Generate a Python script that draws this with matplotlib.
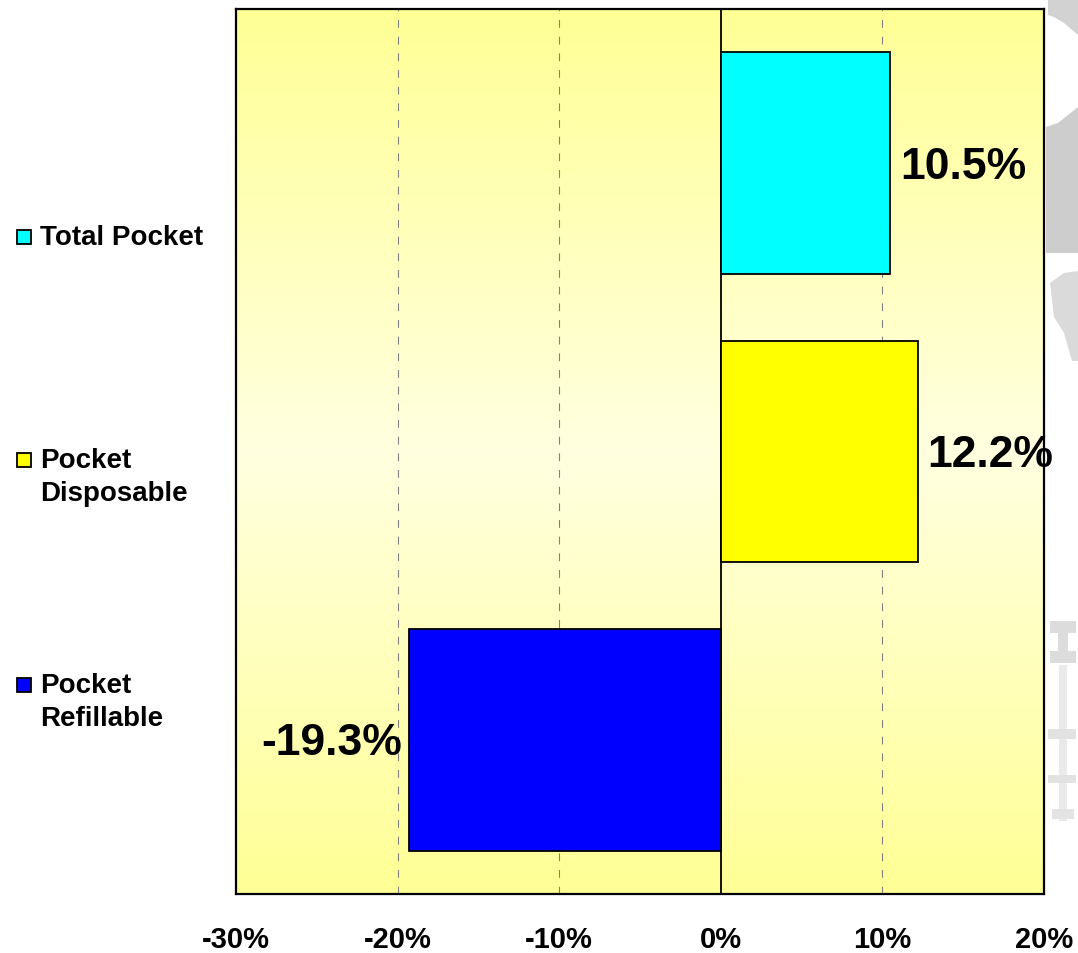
import numpy as np
import matplotlib
matplotlib.use("Agg")
import matplotlib.pyplot as plt
from matplotlib.patches import Rectangle, Polygon
from matplotlib.colors import LinearSegmentedColormap

# Data
categories = ["Total Pocket", "Pocket\nDisposable", "Pocket\nRefillable"]
values = [10.5, 12.2, -19.3]
colors = ["#00FFFF", "#FFFF00", "#0000FF"]
xticks = [-30, -20, -10, 0, 10, 20]
xtick_labels = ["-30%", "-20%", "-10%", "0%", "10%", "20%"]

plt.rcParams["font.family"] = ["Liberation Sans", "DejaVu Sans"]

W, H = 1078, 954
fig = plt.figure(figsize=(W / 100, H / 100), dpi=100)
fig.patch.set_facecolor("white")

# faint grey background artwork on the right margin (pixel coordinates)
px = fig.add_axes([0, 0, 1, 1], zorder=0)
px.set_xlim(0, W)
px.set_ylim(H, 0)
px.axis("off")
shapes = [
    ("#D2D2D2", [(1048, 0), (1078, 0), (1078, 36), (1064, 24), (1054, 18), (1048, 16)]),
    ("#CDCDCD", [(1046, 128), (1058, 124), (1078, 108), (1078, 254), (1046, 254)]),
    ("#DADADA", [(1050, 284), (1064, 274), (1078, 272), (1078, 362), (1072, 362),
                 (1064, 334), (1054, 318)]),
    ("#DCDCDC", [(1050, 622), (1076, 622), (1076, 634), (1068, 634), (1068, 652),
                 (1076, 652), (1076, 664), (1050, 664), (1050, 652), (1058, 652),
                 (1058, 634), (1050, 634)]),
    ("#EAEAEA", [(1059, 666), (1067, 666), (1067, 822), (1059, 822)]),
    ("#E2E2E2", [(1048, 730), (1076, 730), (1076, 740), (1048, 740)]),
    ("#E2E2E2", [(1048, 776), (1076, 776), (1076, 784), (1048, 784)]),
    ("#E4E4E4", [(1052, 810), (1074, 810), (1074, 820), (1052, 820)]),
]
for col, s in shapes:
    px.add_patch(Polygon(s, closed=True, facecolor=col, edgecolor="none"))

# plot area
left, right, top, bottom = 236, 1044, 10, 895
ax = fig.add_axes([left / W, 1 - bottom / H, (right - left) / W, (bottom - top) / H], zorder=1)

# vertical yellow gradient behind the bars
cmap = LinearSegmentedColormap.from_list("bg", ["#FFFF96", "#FFFFE0", "#FFFF96"])
grad = np.linspace(0, 1, 256).reshape(-1, 1)
ax.imshow(grad, cmap=cmap, aspect="auto", extent=(0, 1, 0, 1),
          transform=ax.transAxes, zorder=0, interpolation="bicubic")

ypos = np.arange(len(categories))
ax.barh(ypos, values, height=0.77, color=colors, edgecolor="black",
        linewidth=1.3, zorder=3)

ax.set_xlim(-30, 20)
ax.set_ylim(2.535, -0.535)

for x in [-20, -10, 10]:
    ax.axvline(x, color="#808080", linewidth=0.8, linestyle=(0, (7, 8)), zorder=1)
ax.axvline(0, color="black", linewidth=1.3, zorder=2)

for s in ax.spines.values():
    s.set_linewidth(1.6)
    s.set_color("black")

ax.set_xticks(xticks)
ax.set_xticklabels(xtick_labels, fontsize=21, fontweight="bold")
ax.tick_params(axis="x", length=0, pad=22)
ax.set_yticks([])

# value labels beside the bar ends
for y, v in zip(ypos, values):
    label = f"{v:.1f}%"
    if v >= 0:
        ax.annotate(label, (v, y), xytext=(7, -2), textcoords="offset points",
                    ha="left", va="center", fontsize=32, fontweight="bold", zorder=4)
    else:
        ax.annotate(label, (v, y), xytext=(-5, -2), textcoords="offset points",
                    ha="right", va="center", fontsize=32, fontweight="bold", zorder=4)

# category key on the left
key_y = [238, 461, 686]
for cat, col, ky in zip(categories, colors, key_y):
    px.add_patch(Rectangle((17, ky - 7), 14, 14, facecolor=col,
                           edgecolor="black", linewidth=1.3))
    px.text(40, ky - 13, cat, ha="left", va="top", fontsize=20, fontweight="bold",
            linespacing=1.35)

fig.savefig("out.png", dpi=100)
